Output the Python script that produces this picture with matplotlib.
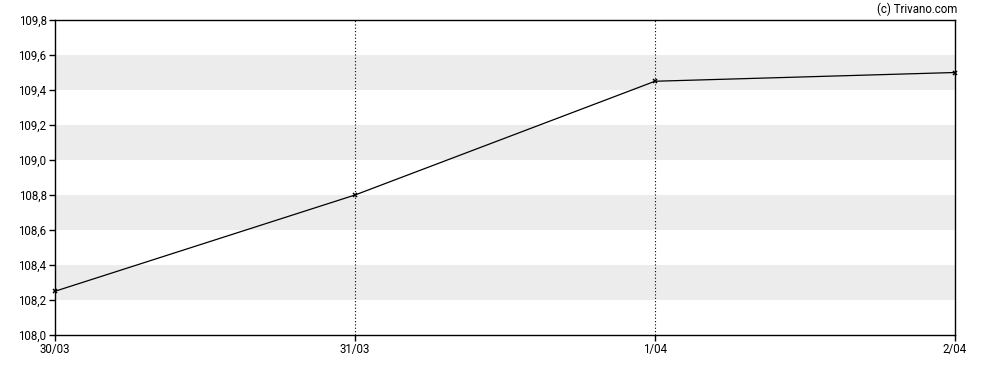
import matplotlib
matplotlib.use("Agg")
from matplotlib import pyplot as plt

dates = ["30/03", "31/03", "1/04", "2/04"]
prices = [108.25, 108.8, 109.45, 109.5]
y_ticks = [108.0, 108.2, 108.4, 108.6, 108.8, 109.0, 109.2, 109.4, 109.6, 109.8]
bands = [(108.2, 108.4), (108.6, 108.8), (109.0, 109.2), (109.4, 109.6)]

plt.rcParams['font.family'] = ['Roboto', 'DejaVu Sans']

W, H = 988, 370
fig = plt.figure(figsize=(W / 100, H / 100), dpi=100)
ax = fig.add_axes([55 / W, (H - 335) / H, 900 / W, 315 / H])

for lo, hi in bands:
    ax.axhspan(lo, hi, color="#ececec", lw=0, zorder=0)

xs = list(range(len(dates)))
for x in xs[1:-1]:
    ax.axvline(x, color="black", lw=0.8, ls=(0, (1, 2)), zorder=1)

ax.plot(xs, prices, color="black", lw=0.9, marker="x", ms=3.2, mew=1.1, zorder=3, clip_on=False)

ax.set_xlim(0, len(dates) - 1)
ax.set_ylim(108.0, 109.8)
ax.set_xticks(xs)
ax.set_xticklabels(dates)
ax.set_yticks(y_ticks)
ax.set_yticklabels([f"{v:.1f}".replace(".", ",") for v in y_ticks])
ax.tick_params(labelsize=8.3, length=4, width=1, color="black", pad=2)
for s in ax.spines.values():
    s.set_linewidth(1)

fig.text(957 / W, 1 - 9 / H, "(c) Trivano.com", ha="right", va="center", fontsize=8.3)

plt.savefig("out.png", dpi=100)
